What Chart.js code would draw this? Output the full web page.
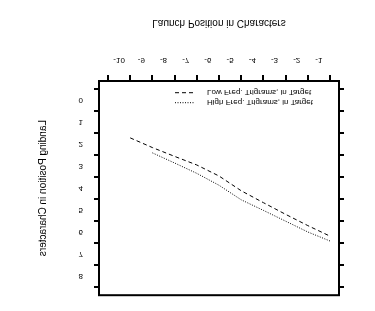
<!DOCTYPE html>
<html>
<head>
<meta charset="utf-8">
<script src="https://cdn.jsdelivr.net/npm/chart.js@4/dist/chart.umd.min.js"></script>
<style>
  html, body { margin: 0; padding: 0; background: #fff; }
  /* the reference picture is mirrored top-to-bottom */
  #myChart { display: block; transform: scaleY(-1); }
</style>
</head>
<body>
<canvas id="myChart" width="375" height="311"></canvas>
<script>
  const xTicks = [-10, -9, -8, -7, -6, -5, -4, -3, -2, -1, 0];
  const xTickLabels = ['-10', '-9', '-8', '-7', '-6', '-5', '-4', '-3', '-2', '-1', ''];
  const yTicks = [0, 1, 2, 3, 4, 5, 6, 7, 8, 9];
  const yTickLabels = ['0', '1', '2', '3', '4', '5', '6', '7', '8', ''];

  const lowFreqX = [-9, -8, -7, -6, -5, -4, -3, -2, -1, 0];
  const lowFreqY = [2.22, 2.66, 3.06, 3.45, 3.95, 4.62, 5.16, 5.69, 6.2, 6.68];
  const highFreqX = [-8, -7, -6, -5, -4, -3, -2, -1, 0];
  const highFreqY = [2.9, 3.36, 3.83, 4.37, 5.03, 5.51, 6.0, 6.49, 6.9];

  const seriesNames = ['Low Freq. Trigrams, in Target', 'High Freq. Trigrams, in Target'];

  Chart.defaults.color = '#000';
  Chart.defaults.font.family = '"Liberation Sans", Arial, sans-serif';

  function setTicks(values) {
    return function(scale) {
      scale.ticks = values.map(v => ({ value: v }));
    };
  }

  // frame round the plot and the legend inside it
  const framePlugin = {
    id: 'frame',
    afterDraw(chart) {
      const ctx = chart.ctx;
      const a = chart.chartArea;
      ctx.save();
      ctx.strokeStyle = '#000';
      ctx.lineWidth = 2;
      ctx.setLineDash([]);
      ctx.strokeRect(a.left, a.top, a.right - a.left, a.bottom - a.top);

      ctx.font = '8px "Liberation Sans", Arial, sans-serif';
      ctx.fillStyle = '#000';
      ctx.textBaseline = 'middle';
      ctx.textAlign = 'left';
      const rows = [a.bottom - 11.7, a.bottom - 21.7];
      chart.data.datasets.forEach((ds, i) => {
        const y = rows[i];
        ctx.lineWidth = 1;
        ctx.setLineDash(ds.borderDash);
        ctx.beginPath();
        ctx.moveTo(a.left + 76, y);
        ctx.lineTo(a.left + 96, y);
        ctx.stroke();
        ctx.setLineDash([]);
        ctx.fillText(ds.label, a.left + 108, y);
      });
      ctx.restore();
    }
  };

  const ctx = document.getElementById('myChart').getContext('2d');
  const myChart = new Chart(ctx, {
    type: 'line',
    data: {
      datasets: [
        {
          label: seriesNames[0],
          data: lowFreqX.map((x, i) => ({ x: x, y: lowFreqY[i] })),
          borderColor: '#000',
          borderWidth: 1,
          borderDash: [4, 3],
          pointRadius: 0,
          fill: false
        },
        {
          label: seriesNames[1],
          data: highFreqX.map((x, i) => ({ x: x, y: highFreqY[i] })),
          borderColor: '#000',
          borderWidth: 1,
          borderDash: [1, 1.5],
          pointRadius: 0,
          fill: false
        }
      ]
    },
    options: {
      responsive: false,
      animation: false,
      layout: { padding: { top: 14, left: 0, right: 0, bottom: 0 } },
      plugins: { legend: { display: false }, tooltip: { enabled: false } },
      scales: {
        x: {
          type: 'linear',
          position: 'bottom',
          min: -10.405,
          max: 0.405,
          afterBuildTicks: setTicks(xTicks),
          afterFit: s => { s.height = 81; },
          border: { display: true, color: '#000', width: 2 },
          grid: { drawOnChartArea: false, drawTicks: true, tickLength: 6, color: '#000', lineWidth: 2 },
          ticks: {
            autoSkip: false,
            maxRotation: 0,
            padding: 10,
            labelOffset: 11.1,
            font: { size: 8 },
            callback: (v, i) => xTickLabels[i]
          },
          title: {
            display: true,
            text: 'Launch Position in Characters',
            font: { size: 10 },
            padding: { top: 0, bottom: 17 }
          }
        },
        y: {
          type: 'linear',
          position: 'left',
          min: -0.36,
          max: 9.36,
          afterBuildTicks: setTicks(yTicks),
          afterFit: s => { s.width = 99; },
          border: { display: true, color: '#000', width: 2 },
          grid: { drawOnChartArea: false, drawTicks: true, tickLength: 5, color: '#000', lineWidth: 2 },
          ticks: {
            autoSkip: false,
            padding: 11,
            labelOffset: -11.1,
            font: { size: 8 },
            callback: (v, i) => yTickLabels[i]
          },
          title: {
            display: true,
            text: 'Landing Position in Characters',
            font: { size: 10 },
            padding: { top: 37, bottom: 0 }
          }
        },
        yRight: {
          type: 'linear',
          position: 'right',
          min: -0.36,
          max: 9.36,
          afterBuildTicks: setTicks(yTicks),
          afterFit: s => { s.width = 36; },
          border: { display: true, color: '#000', width: 2 },
          grid: { drawOnChartArea: false, drawTicks: true, tickLength: 5, color: '#000', lineWidth: 2 },
          ticks: { display: false }
        }
      }
    },
    plugins: [framePlugin]
  });
</script>
</body>
</html>
